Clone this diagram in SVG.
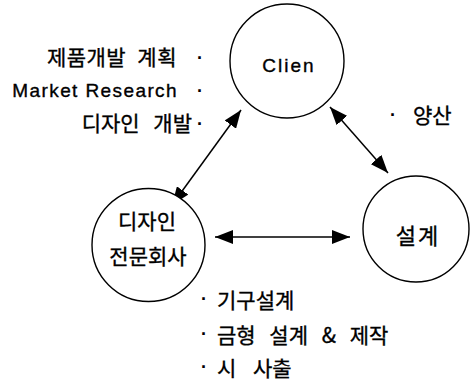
<svg xmlns="http://www.w3.org/2000/svg" width="471" height="382" viewBox="0 0 471 382">
<style>
.node{fill:#fff;stroke:#000;stroke-width:1.4}
.k{font-family:"Noto Sans CJK KR","Liberation Sans",sans-serif;fill:#000;stroke:#000;stroke-width:0.35;font-size:21px;word-spacing:6px}
.l{font-family:"Liberation Sans","Noto Sans CJK KR",sans-serif;fill:#000;stroke:#000;stroke-width:0.35;font-size:19px;letter-spacing:1.4px}
.d{font-family:"Liberation Sans",sans-serif;fill:#000;font-size:18px;font-weight:bold}
.c{stroke:#000;stroke-width:1.5;fill:none;marker-start:url(#ah);marker-end:url(#ah)}
</style>
<defs>
<marker id="ah" viewBox="0 0 18 14" refX="18" refY="7" markerWidth="18" markerHeight="14" markerUnits="userSpaceOnUse" orient="auto-start-reverse">
<path d="M0,0 L18,7 L0,14 z" fill="#000"/>
</marker>
</defs>
<rect width="471" height="382" fill="#fff"/>
<g id="connectors">
<line class="c" x1="172" y1="205" x2="241" y2="110"/>
<line class="c" x1="330" y1="107" x2="388" y2="173"/>
<line class="c" x1="215" y1="237" x2="350" y2="237"/>
</g>
<g id="client">
<circle class="node" cx="287" cy="61" r="57"/>
<text class="l" x="289" y="72" text-anchor="middle" style="letter-spacing:2px">Clien</text>
</g>
<g id="design">
<circle class="node" cx="148.5" cy="245" r="56.5"/>
<text class="k" x="147" y="229" text-anchor="middle">디자인</text>
<text class="k" x="148" y="264" text-anchor="middle">전문회사</text>
</g>
<g id="engineering">
<circle class="node" cx="416" cy="229" r="53"/>
<text class="k" x="418" y="244" text-anchor="middle" style="font-size:22px;letter-spacing:2px">설계</text>
</g>
<g id="labels">
<text class="k" x="177" y="65" text-anchor="end" style="letter-spacing:0.5px">제품개발 계획</text>
<text class="l" x="178" y="97" text-anchor="end">Market Research</text>
<text class="k" x="192" y="131" text-anchor="end" style="word-spacing:9px">디자인 개발</text>
<text class="d" x="197" y="64">·</text>
<text class="d" x="197" y="97">·</text>
<text class="d" x="197" y="130">·</text>
<text class="d" x="390" y="121">·</text>
<text class="k" x="413" y="123">양산</text>
<text class="d" x="201" y="305">·</text>
<text class="k" x="217" y="308">기구설계</text>
<text class="d" x="201" y="340">·</text>
<text class="k" x="217" y="343" style="word-spacing:9px">금형 설계 &amp; 제작</text>
<text class="d" x="201" y="373">·</text>
<text class="k" x="217" y="376" style="word-spacing:12px">시 사출</text>
</g>
</svg>
